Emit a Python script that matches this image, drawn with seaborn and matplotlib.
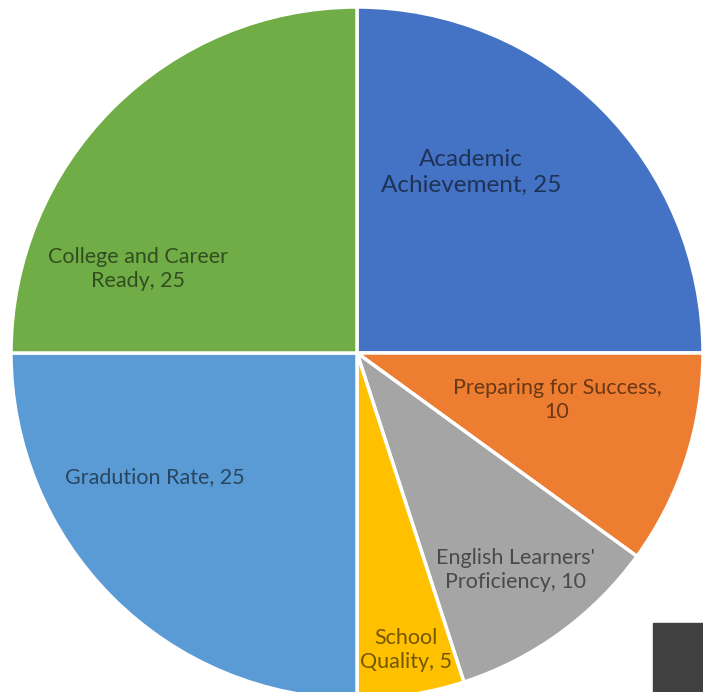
import numpy as np
import matplotlib.pyplot as plt
import matplotlib.patches as mpatches
import seaborn as sns

# ==========================================
# Data
# ==========================================

categories = [
    "Academic\nAchievement",
    "Preparing for Success,\n",
    "English Learners'\nProficiency",
    "School\nQuality",
    "Gradution Rate",
    "College and Career\nReady",
]
weights = [25, 10, 10, 5, 25, 25]
colors = ["#4472C4", "#ED7D31", "#A5A5A5", "#FFC000", "#5B9BD5", "#70AD47"]

# label placement: (angle offset in deg from slice middle, fraction of radius, font size)
label_place = [
    (12.8, 0.618, 17.5),
    (4.8, 0.594, 15.5),
    (0.2, 0.777, 15.5),
    (0.4, 0.870, 15.5),
    (-13.5, 0.685, 15.5),
    (24.0, 0.678, 15.5),
]

# ==========================================
# Plot
# ==========================================

sns.set_theme(style="white")
plt.rcParams["font.family"] = ["Lato", "DejaVu Sans"]

W, H = 703, 692
fig = plt.figure(figsize=(W / 100, H / 100), dpi=100)
ax = fig.add_axes([0, 0, 1, 1])

cx, cy, r = 357, H - 353, 346

wedges, _ = ax.pie(
    weights,
    colors=colors,
    startangle=90,
    counterclock=False,
    center=(cx, cy),
    radius=r,
    wedgeprops=dict(edgecolor="white", linewidth=2.5),
    frame=True,
)
ax.set_xlim(0, W)
ax.set_ylim(0, H)
ax.set_aspect("equal")
ax.axis("off")

for w, cat, val, (da, fr, fs) in zip(wedges, categories, weights, label_place):
    mid = np.deg2rad((w.theta1 + w.theta2) / 2 + da)
    x = cx + fr * r * np.cos(mid)
    y = cy + fr * r * np.sin(mid)
    if cat.endswith("\n"):
        txt = f"{cat}{val}"
    else:
        txt = f"{cat}, {val}"
    ax.text(x, y, txt, ha="center", va="center", multialignment="center",
            fontsize=fs, color="black", alpha=0.55, linespacing=1.3)

# dark block in the lower right corner
ax.add_patch(mpatches.Rectangle((653, 0), 60, H - 623, color="#404040",
                                clip_on=False))

plt.savefig("out.png", dpi=100)
